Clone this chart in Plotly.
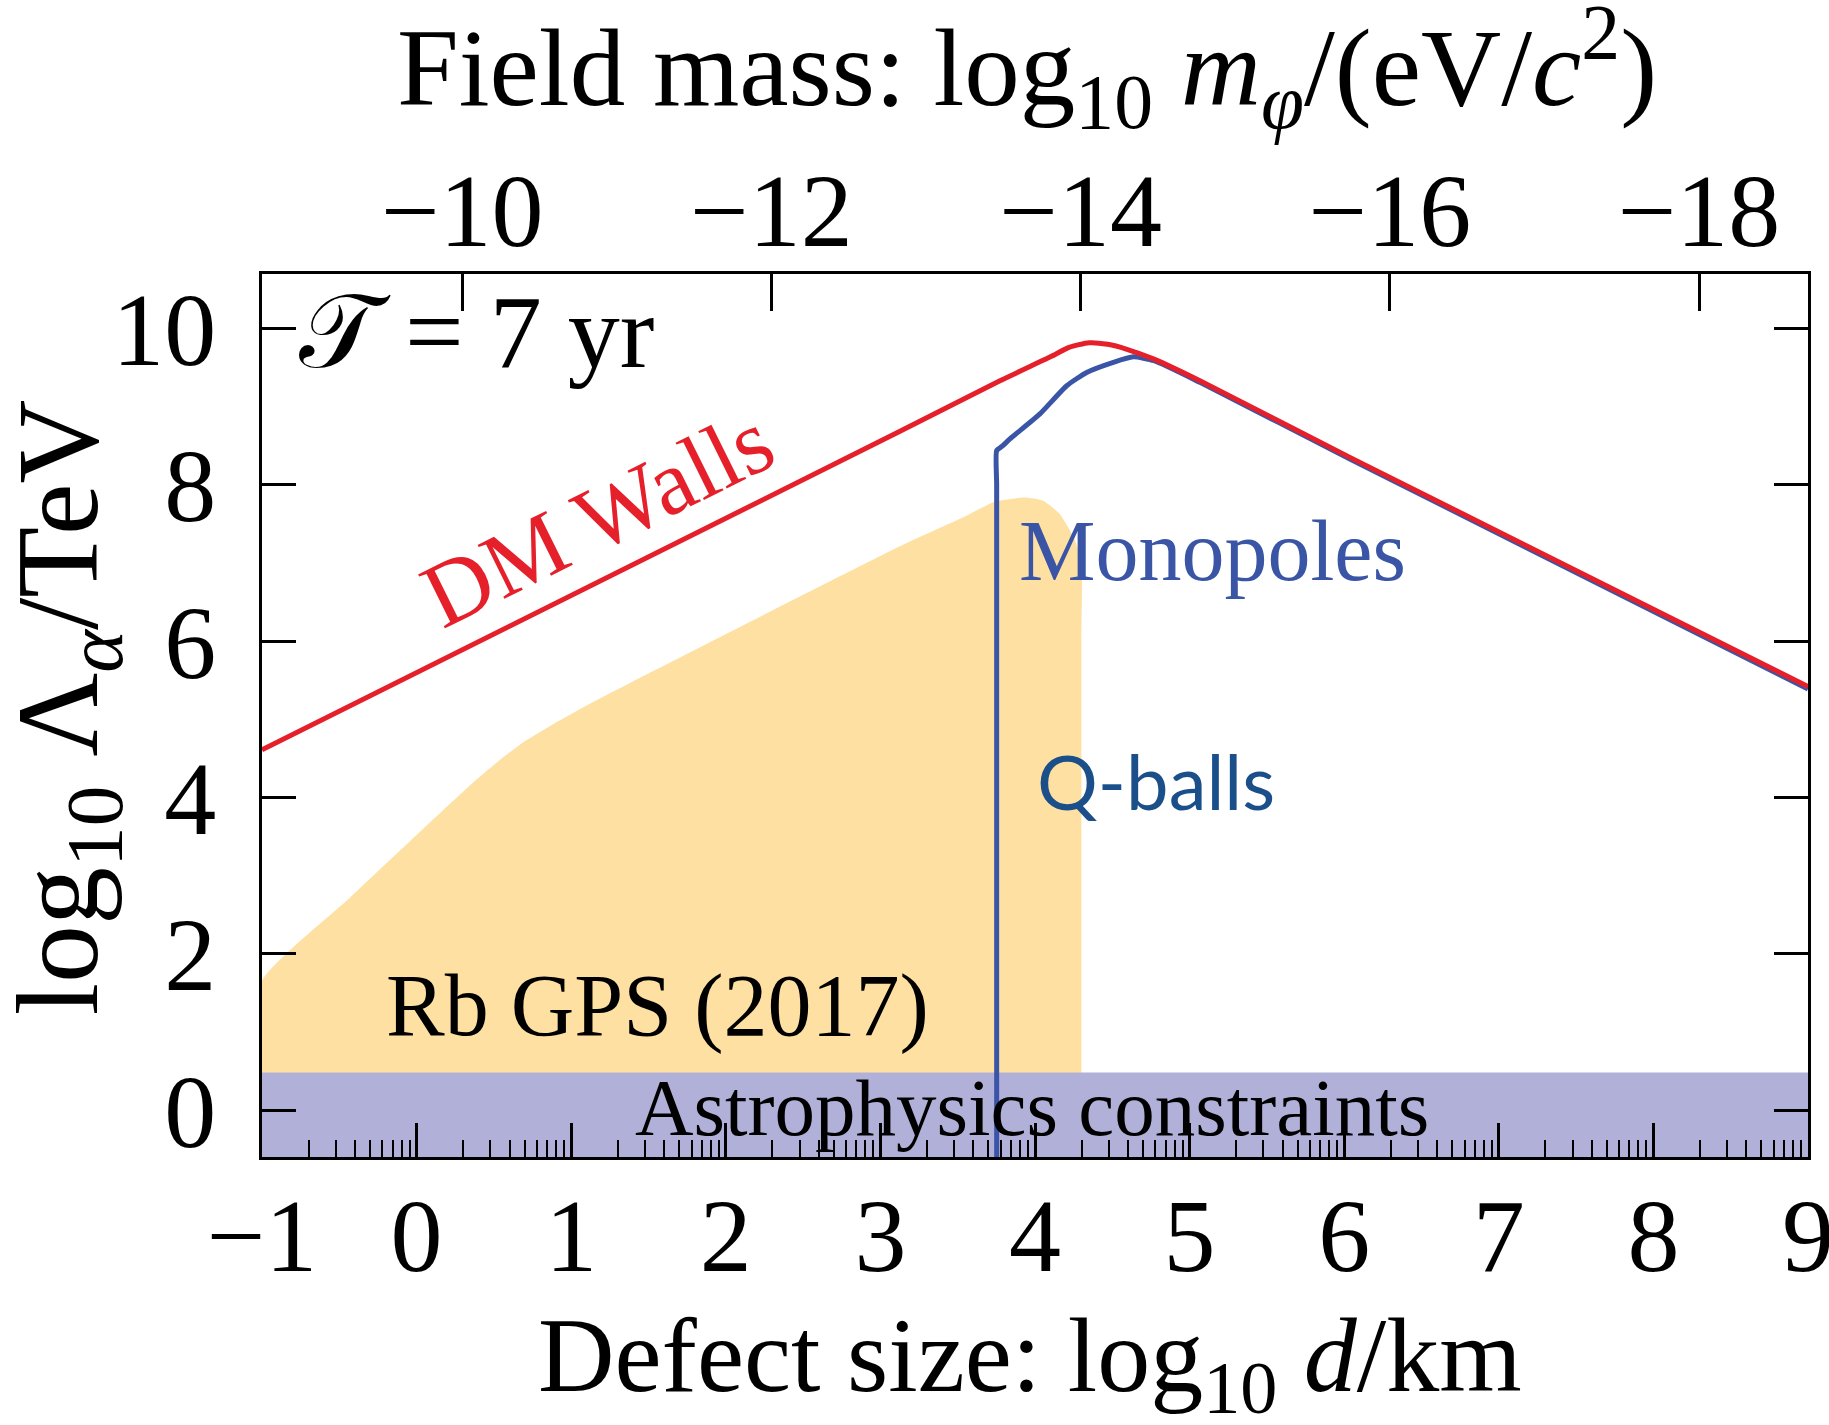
import math
import plotly.graph_objects as go

# ---- data (log10 defect size d/km on x, log10 Lambda_alpha/TeV on y) ----
dm_walls_x = [-1.0, 3.13, 3.77, 4.10, 4.22, 4.35, 4.47, 4.59, 4.77, 5.07, 6.04, 9.0]
dm_walls_y = [4.61, 8.69, 9.33, 9.64, 9.76, 9.82, 9.80, 9.74, 9.61, 9.33, 8.35, 5.42]

monopoles_x = [3.752, 3.752, 3.752, 3.79, 3.838, 4.032, 4.205, 4.334, 4.507, 4.636, 4.77, 5.07, 6.04, 9.0]
monopoles_y = [-0.70, 8.00, 8.44, 8.50, 8.59, 8.91, 9.27, 9.44, 9.57, 9.64, 9.59, 9.31, 8.33, 5.39]

rb_gps_x = [-1.0, -1.0, -0.43, 0.15, 0.37, 0.55, 0.70, 0.85, 1.12, 3.13, 3.56, 3.73,
            3.93, 4.05, 4.16, 4.25, 4.30, 4.30, 4.30]
rb_gps_y = [0.30, 1.65, 2.72, 3.80, 4.20, 4.50, 4.72, 4.90, 5.20, 7.22, 7.61, 7.78,
            7.84, 7.80, 7.63, 7.33, 7.03, 6.00, 0.30]

astro_top = 0.48

x_range = [-1, 9]
y_range = [-0.6, 10.7]
x_ticks = list(range(-1, 10))
y_ticks = [0, 2, 4, 6, 8, 10]

# top axis: log10 m_phi = log10(hbar c / 1 km) - log10 d
mass_offset = -9.705
mass_ticks = [-10, -12, -14, -16, -18]
mass_labels = ["\u221210", "\u221212", "\u221214", "\u221216", "\u221218"]

SERIF = "Liberation Serif"
RED = "#e5202a"
BLUE = "#3a55a6"
ORANGE = "#fee0a3"
PURPLE = "#b1b0d8"

fig = go.Figure()

fig.add_trace(go.Scatter(x=rb_gps_x, y=rb_gps_y, mode="lines", fill="toself",
                         fillcolor=ORANGE,
                         line=dict(width=0, color=ORANGE, shape="spline", smoothing=0.5),
                         hoverinfo="skip", showlegend=False))
fig.add_trace(go.Scatter(x=[x_range[0], x_range[1], x_range[1], x_range[0]],
                         y=[y_range[0], y_range[0], astro_top, astro_top],
                         mode="lines", fill="toself", fillcolor=PURPLE,
                         line=dict(width=0, color=PURPLE),
                         hoverinfo="skip", showlegend=False))
fig.add_trace(go.Scatter(x=monopoles_x, y=monopoles_y, mode="lines",
                         line=dict(color=BLUE, width=5, shape="spline", smoothing=0.5),
                         hoverinfo="skip", showlegend=False))
fig.add_trace(go.Scatter(x=dm_walls_x, y=dm_walls_y, mode="lines",
                         line=dict(color=RED, width=5, shape="spline", smoothing=0.6),
                         hoverinfo="skip", showlegend=False))
# empty trace so the top mass axis is laid out
fig.add_trace(go.Scatter(x=[], y=[], xaxis="x2", hoverinfo="skip", showlegend=False))

minor_vals = [n + math.log10(k) for n in range(-1, 9) for k in range(2, 10)]

tickfont = dict(family=SERIF, size=104, color="black")

fig.update_layout(
    width=1829, height=1425,
    margin=dict(l=262, r=21, t=274, b=268, autoexpand=False),
    paper_bgcolor="white", plot_bgcolor="white",
    xaxis=dict(range=x_range, tickmode="array", tickvals=x_ticks,
               ticks="inside", ticklen=34, tickwidth=2.5, tickcolor="black",
               showline=True, linewidth=3, linecolor="black", mirror=False,
               showgrid=False, zeroline=False, tickfont=tickfont,
               ticklabelstandoff=-14, ticklabeloverflow="allow", automargin=False,
               minor=dict(tickmode="array", tickvals=minor_vals, ticks="inside",
                          ticklen=17, tickwidth=2, tickcolor="black", showgrid=False)),
    xaxis2=dict(overlaying="x", side="top",
                range=[mass_offset - x_range[0], mass_offset - x_range[1]],
                tickmode="array", tickvals=mass_ticks, ticktext=mass_labels,
                ticks="inside", ticklen=37, tickwidth=2.5, tickcolor="black",
                showline=True, linewidth=3, linecolor="black",
                showgrid=False, zeroline=False, tickfont=tickfont,
                ticklabelstandoff=-17, ticklabeloverflow="allow", automargin=False),
    yaxis=dict(range=y_range, tickmode="array", tickvals=y_ticks,
               ticks="inside", ticklen=34, tickwidth=2.5, tickcolor="black",
               showline=True, linewidth=3, linecolor="black", mirror="ticks",
               showgrid=False, zeroline=False, tickfont=tickfont,
               ticklabelstandoff=22, ticklabeloverflow="allow", automargin=False),
)

ann = []
# axis titles
ann.append(dict(text="Field mass: log<sub>10</sub> <i>m</i><sub><i>\u03c6</i></sub>/(eV/<i>c</i><sup>2</sup>)",
                xref="paper", yref="paper", x=0.495, y=1.234, xanchor="center", yanchor="middle",
                showarrow=False, font=dict(family=SERIF, size=111, color="black")))
ann.append(dict(text="Defect size: log<sub>10</sub> <i>d</i>/km",
                xref="paper", yref="paper", x=0.497, y=-0.233, xanchor="center", yanchor="middle",
                showarrow=False, font=dict(family=SERIF, size=106, color="black")))
ann.append(dict(text="log<sub>10</sub> \u039b<sub><i>\u03b1</i></sub>/TeV",
                xref="paper", yref="paper", x=-0.126, y=0.5085, xanchor="center", yanchor="middle",
                textangle=-90, showarrow=False, font=dict(family=SERIF, size=116, color="black")))
# in-plot labels
ann.append(dict(text="\U0001D4AF = 7 yr", xref="x", yref="y", x=0.39, y=9.96,
                xanchor="center", yanchor="middle", showarrow=False,
                font=dict(family=SERIF, size=104, color="black")))
ann.append(dict(text="DM Walls", xref="x", yref="y", x=1.17, y=7.58, textangle=-26.4,
                xanchor="center", yanchor="middle", showarrow=False,
                font=dict(family=SERIF, size=92, color=RED)))
ann.append(dict(text="Monopoles", xref="x", yref="y", x=5.145, y=7.16,
                xanchor="center", yanchor="middle", showarrow=False,
                font=dict(family=SERIF, size=86, color=BLUE)))
ann.append(dict(text="Q-balls", xref="x", yref="y", x=4.78, y=4.22,
                xanchor="center", yanchor="middle", showarrow=False,
                font=dict(family="Lato", size=76, color="#1b4f8a")))
ann.append(dict(text="Rb GPS (2017)", xref="x", yref="y", x=1.56, y=1.34,
                xanchor="center", yanchor="middle", showarrow=False,
                font=dict(family=SERIF, size=88, color="black")))
ann.append(dict(text="Astrophysics constraints", xref="x", yref="y", x=3.98, y=0.03,
                xanchor="center", yanchor="middle", showarrow=False,
                font=dict(family=SERIF, size=81, color="black")))
fig.update_layout(annotations=ann)

fig.write_html("out.html")
